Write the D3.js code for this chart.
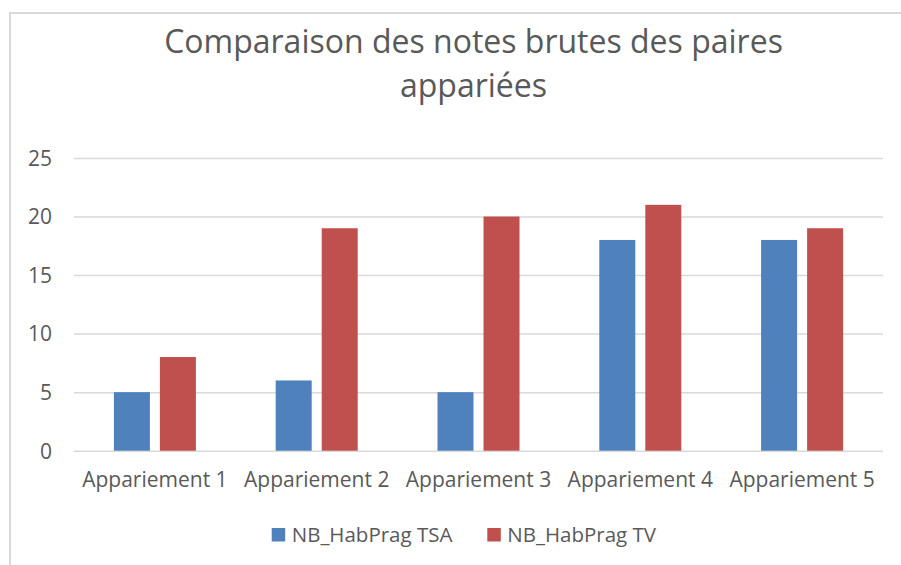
<!DOCTYPE html>
<html>
<head>
<meta charset="utf-8">
<script src="https://cdn.jsdelivr.net/npm/d3@7"></script>
<style>
  html, body { margin: 0; padding: 0; background: #ffffff; }
  svg { display: block; }
  text { font-family: "Open Sans", "Noto Sans", sans-serif; fill: #595959; }
</style>
</head>
<body>
<svg id="chart" width="901" height="565"></svg>
<script>
// ---- data ----
const categories = ["Appariement 1", "Appariement 2", "Appariement 3", "Appariement 4", "Appariement 5"];
const seriesNames = ["NB_HabPrag TSA", "NB_HabPrag TV"];
const tsaValues = [5, 6, 5, 18, 18];
const tvValues = [8, 19, 20, 21, 19];
const yTicks = [0, 5, 10, 15, 20, 25];
const titleLines = ["Comparaison des notes brutes des paires", "appariées"];
const colors = ["#4F81BD", "#C0504D"];

const seriesValues = [tsaValues, tvValues];

// ---- layout ----
const W = 901, H = 565;
const plot = { left: 74, right: 883, top: 158, bottom: 450.7 };

const svg = d3.select("#chart");

// frame
svg.append("path")
  .attr("d", `M10,${H + 5} L10,13 L${W + 5},13`)
  .attr("fill", "none")
  .attr("stroke", "#d9d9d9")
  .attr("stroke-width", 2);

// title
svg.append("g").selectAll("text")
  .data(titleLines)
  .join("text")
  .attr("x", (W + 10) / 2 + 18)
  .attr("y", (d, i) => 53 + i * 44)
  .attr("text-anchor", "middle")
  .attr("font-size", 32)
  .text(d => d);

// scales
const x0 = d3.scaleBand().domain(categories).range([plot.left, plot.right]).paddingInner(0).paddingOuter(0);
const x1 = d3.scaleBand().domain(d3.range(seriesNames.length)).range([0, x0.bandwidth()])
  .paddingInner(10 / 46).paddingOuter(0.867);
const y = d3.scaleLinear().domain([0, 25]).range([plot.bottom, plot.top]);

// gridlines via axis
const yAxis = d3.axisLeft(y).tickValues(yTicks).tickSize(-(plot.right - plot.left)).tickPadding(22);
const gy = svg.append("g").attr("transform", `translate(${plot.left},0)`).call(yAxis);
gy.select(".domain").remove();
gy.selectAll(".tick line").attr("stroke", "#d9d9d9").attr("stroke-width", 1.5);
gy.selectAll(".tick text")
  .attr("font-size", 21)
  .attr("fill", "#595959")
  .attr("font-family", "'Open Sans', sans-serif")
  .attr("dy", "0.35em");

// bars
const rows = categories.map((c, i) => ({ cat: c, vals: seriesValues.map(s => s[i]) }));
const groups = svg.append("g").selectAll("g")
  .data(rows)
  .join("g")
  .attr("transform", d => `translate(${x0(d.cat)},0)`);
groups.selectAll("rect")
  .data(d => d.vals.map((v, k) => ({ v, k })))
  .join("rect")
  .attr("x", d => x1(d.k))
  .attr("width", x1.bandwidth())
  .attr("y", d => y(d.v))
  .attr("height", d => y(0) - y(d.v))
  .attr("fill", d => colors[d.k]);

// x axis labels
const xAxis = d3.axisBottom(x0).tickSize(0).tickPadding(21);
const gx = svg.append("g").attr("transform", `translate(0,${plot.bottom})`).call(xAxis);
gx.select(".domain").remove();
gx.selectAll(".tick text")
  .attr("font-size", 21)
  .attr("fill", "#595959")
  .attr("font-family", "'Open Sans', sans-serif")
  .attr("dy", "0.72em");

// legend
const legendX = [271.7, 487.3];
const leg = svg.append("g").selectAll("g")
  .data(seriesNames)
  .join("g")
  .attr("transform", (d, i) => `translate(${legendX[i]},528)`);
leg.append("rect")
  .attr("width", 13.5).attr("height", 13.5)
  .attr("fill", (d, i) => colors[i]);
leg.append("text")
  .attr("x", 20).attr("y", 13.5)
  .attr("font-size", 20.5)
  .text(d => d);
</script>
</body>
</html>
